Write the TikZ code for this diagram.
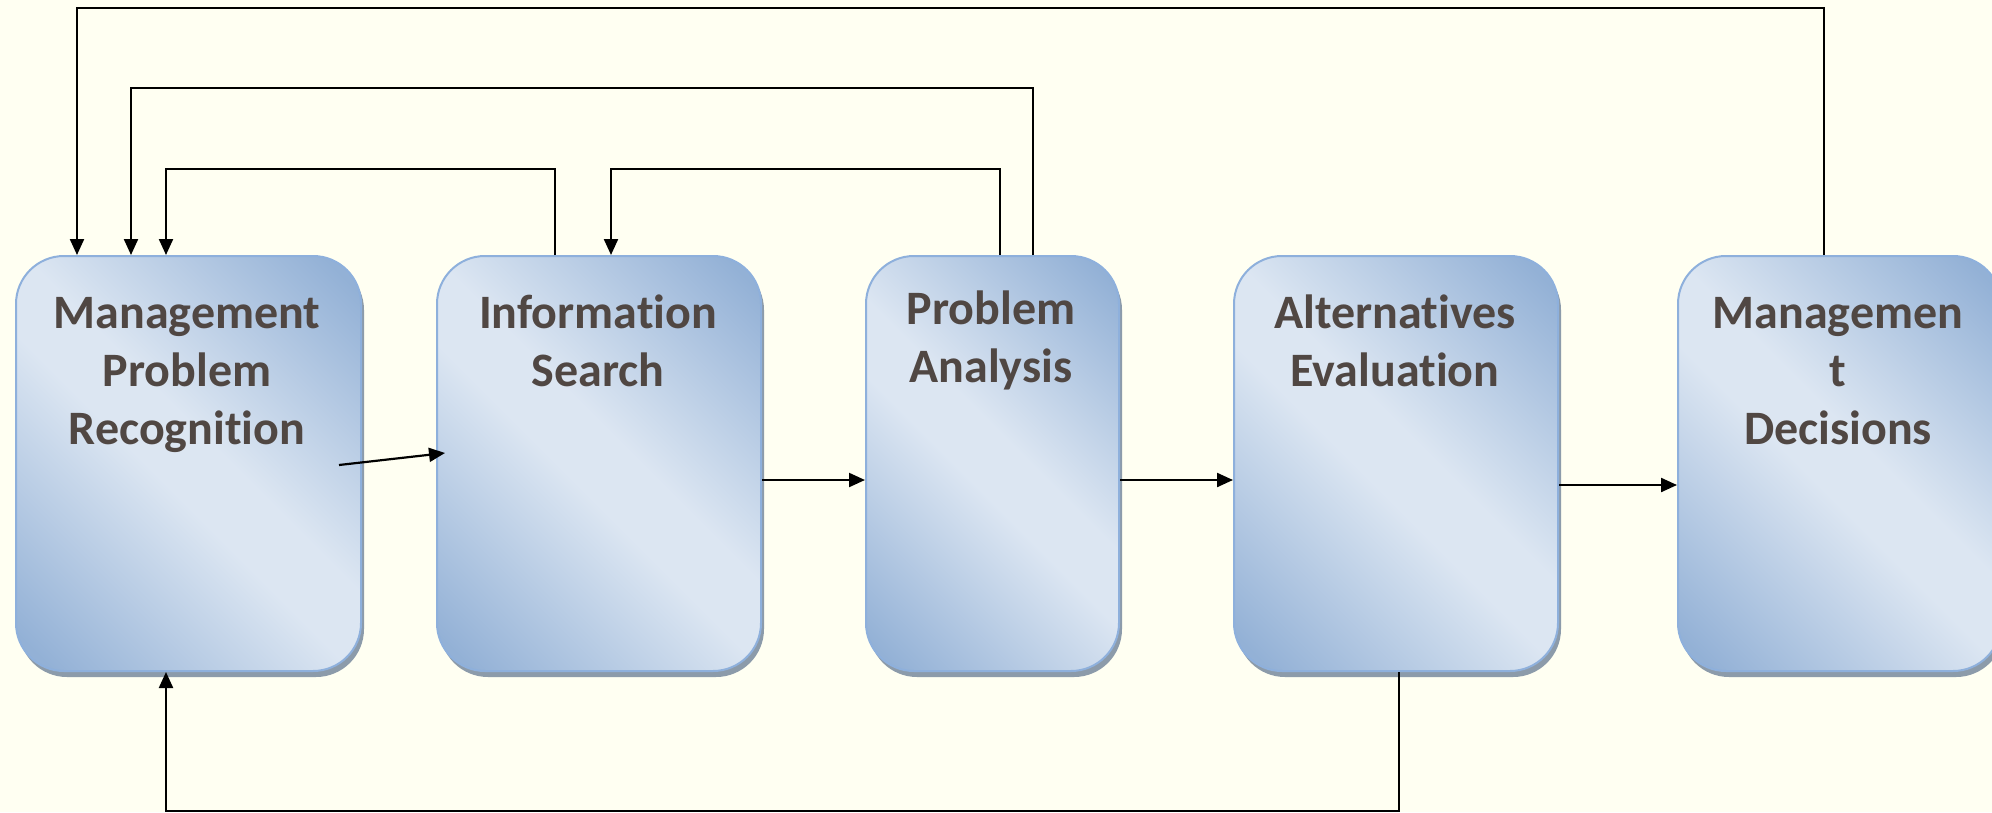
\documentclass[tikz,border=0pt]{standalone}
\usepackage{fontspec}
\setmainfont[Ligatures=NoCommon]{Carlito}
\usetikzlibrary{arrows.meta,calc,shadows}
\definecolor{bg}{RGB}{255,255,242}
\definecolor{dk}{RGB}{147,177,214}
\definecolor{lt}{RGB}{220,230,242}
\definecolor{bd}{RGB}{142,176,220}
\definecolor{sh}{RGB}{140,155,170}
\definecolor{tx}{RGB}{80,71,67}
\pgfdeclarehorizontalshading{boxshade}{100bp}{color(0bp)=(dk); color(18bp)=(dk); color(46bp)=(lt); color(54bp)=(lt); color(82bp)=(dk); color(100bp)=(dk)}
\tikzset{
  box/.style={rectangle, rounded corners=48pt, draw=bd, line width=2pt,
    shade, shading=boxshade, shading angle=45,
    anchor=north west, inner sep=0pt, minimum height=415pt,
    drop shadow={shadow xshift=3pt, shadow yshift=-6pt, fill=sh, opacity=1}},
  lbl/.style={font=\bfseries\fontsize{48}{58}\selectfont, text=tx, align=center, inner sep=0pt},
  conn/.style={line width=2.2pt, black},
  arr/.style={conn, -{Triangle[length=16pt,width=14pt]}}
}
\begin{document}
\begin{tikzpicture}[x=1pt,y=-1pt]
\fill[bg] (0,0) rectangle (1992,812);
\useasboundingbox (0,0) rectangle (1992,812);

\node[box, minimum width=345pt] (b1) at (15,255) {};
\node[box, minimum width=324pt] (b2) at (436,255) {};
\node[box, minimum width=253pt] (b3) at (865,255) {};
\node[box, minimum width=324pt] (b4) at (1233,255) {};
\node[box, minimum width=323pt] (b5) at (1677,255) {};

\node[lbl] (t1) at (187,375) {Management\\Problem\\Recognition};
\node[lbl] (t2) at (598,341) {Information\\Search};
\node[lbl] (t3) at (991,340) {Problem\\Analysis};
\node[lbl] (t4) at (1395,341) {Alternatives\\Evaluation};
\node[lbl] (t5) at (1838,371) {Managemen\\t\\Decisions};

% forward arrows
\draw[arr] ([xshift=-23pt,yshift=-1.5pt]b1.east) -- ([xshift=9pt,yshift=10.5pt]b2.west);
\draw[arr] ([yshift=-16.5pt]b2.east) -- ([yshift=-16.5pt]b3.west);
\draw[arr] ([yshift=-16.5pt]b3.east) -- ([yshift=-16.5pt]b4.west);
\draw[arr] ([yshift=-21.5pt]b4.east) -- ([yshift=-21.5pt]b5.west);

% feedback loops
\draw[arr] ([xshift=119pt]b2.north west) -- ++(0,-86) -| ([xshift=151pt]b1.north west);
\draw[arr] ([xshift=135pt]b3.north west) -- ++(0,-86) -| ([xshift=175pt]b2.north west);
\draw[arr] ([xshift=168pt]b3.north west) -- ++(0,-167) -| ([xshift=116pt]b1.north west);
\draw[arr] ([xshift=147pt]b5.north west) -- ++(0,-247) -| ([xshift=62pt]b1.north west);
\draw[arr] ([xshift=166pt]b4.south west) -- ++(0,139) -| ([xshift=151pt]b1.south west);
\end{tikzpicture}
\end{document}
